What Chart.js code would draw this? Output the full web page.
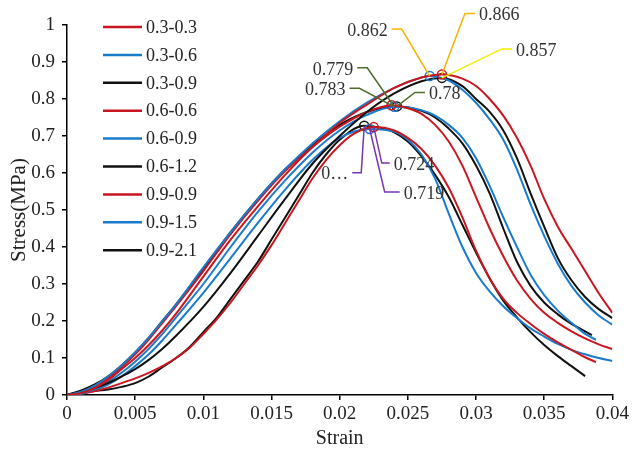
<!DOCTYPE html>
<html>
<head>
<meta charset="utf-8">
<script src="https://cdn.jsdelivr.net/npm/chart.js@4.4.0/dist/chart.umd.min.js"></script>
<style>
  html, body { margin: 0; padding: 0; background: #fff; }
  #wrap { width: 632px; height: 451px; }
</style>
</head>
<body>
<div id="wrap"><canvas id="chart" width="632" height="451"></canvas></div>
<script>
/* Stress-strain curves, 9 specimens */

const RED = '#C9171F', BLUE = '#1A7BCB', BLACK = '#111111';

const SERIES_LABELS = ['0.3-0.3', '0.3-0.6', '0.3-0.9', '0.6-0.6', '0.6-0.9', '0.6-1.2', '0.9-0.9', '0.9-1.5', '0.9-2.1'];
const SERIES_COLORS = [RED, BLUE, BLACK, RED, BLUE, BLACK, RED, BLUE, BLACK];

// strain / stress (MPa)
const strain_03_03 = [0,0.001,0.002,0.003,0.004,0.005,0.006,0.007,0.008,0.010,0.012,0.014,0.016,0.018,0.020,0.022,0.024,0.026,0.0275,0.029,0.030,0.031,0.032,0.033,0.034,0.035,0.036,0.037,0.038,0.039,0.040];
const stress_03_03 = [0,0.005,0.018,0.04,0.07,0.1,0.135,0.175,0.22,0.32,0.42,0.51,0.595,0.67,0.735,0.785,0.83,0.858,0.866,0.855,0.835,0.80,0.755,0.695,0.62,0.53,0.455,0.395,0.335,0.275,0.222];

const strain_03_06 = [0,0.001,0.002,0.003,0.004,0.005,0.006,0.007,0.008,0.010,0.012,0.014,0.016,0.018,0.020,0.022,0.024,0.0255,0.0266,0.028,0.029,0.030,0.031,0.032,0.033,0.034,0.035,0.036,0.037,0.038,0.039,0.040];
const stress_03_06 = [0,0.008,0.025,0.05,0.08,0.115,0.155,0.2,0.245,0.345,0.44,0.53,0.61,0.68,0.74,0.79,0.83,0.852,0.862,0.85,0.825,0.79,0.745,0.69,0.61,0.515,0.43,0.355,0.295,0.25,0.215,0.19];

const strain_03_09 = [0,0.001,0.002,0.003,0.004,0.005,0.006,0.007,0.008,0.010,0.012,0.014,0.016,0.018,0.020,0.022,0.024,0.026,0.0275,0.029,0.030,0.031,0.032,0.033,0.034,0.035,0.036,0.037,0.038,0.039,0.040];
const stress_03_09 = [0,0.008,0.018,0.032,0.05,0.07,0.095,0.125,0.16,0.238,0.33,0.43,0.53,0.625,0.70,0.765,0.815,0.848,0.857,0.835,0.80,0.765,0.715,0.64,0.545,0.455,0.37,0.31,0.265,0.232,0.208];

const strain_06_06 = [0,0.001,0.002,0.003,0.004,0.005,0.006,0.007,0.008,0.010,0.012,0.014,0.016,0.018,0.020,0.022,0.0238,0.025,0.026,0.027,0.028,0.029,0.030,0.031,0.032,0.033,0.034,0.035,0.036,0.037,0.038,0.039,0.040];
const stress_06_06 = [0,0.006,0.02,0.045,0.075,0.11,0.15,0.195,0.24,0.335,0.435,0.525,0.605,0.67,0.725,0.765,0.783,0.775,0.76,0.73,0.685,0.62,0.535,0.45,0.375,0.31,0.26,0.222,0.195,0.172,0.153,0.137,0.124];

const strain_06_09 = [0,0.001,0.002,0.003,0.004,0.005,0.006,0.007,0.008,0.010,0.012,0.014,0.016,0.018,0.020,0.022,0.024,0.026,0.027,0.028,0.029,0.030,0.031,0.032,0.033,0.034,0.035,0.036,0.037,0.038,0.0388];
const stress_06_09 = [0,0.004,0.015,0.035,0.06,0.09,0.125,0.165,0.21,0.3,0.4,0.495,0.58,0.655,0.715,0.757,0.779,0.77,0.755,0.73,0.695,0.64,0.565,0.48,0.40,0.325,0.27,0.228,0.195,0.165,0.149];

const strain_06_12 = [0,0.001,0.002,0.003,0.004,0.005,0.006,0.007,0.008,0.010,0.012,0.014,0.016,0.018,0.020,0.022,0.0242,0.026,0.027,0.028,0.029,0.030,0.031,0.032,0.033,0.034,0.035,0.036,0.037,0.038,0.0385];
const stress_06_12 = [0,0.012,0.028,0.05,0.08,0.115,0.155,0.2,0.245,0.34,0.44,0.53,0.61,0.675,0.73,0.765,0.78,0.768,0.75,0.72,0.68,0.62,0.545,0.45,0.36,0.295,0.25,0.218,0.192,0.172,0.162];

const strain_09_09 = [0,0.001,0.002,0.003,0.004,0.005,0.006,0.007,0.008,0.009,0.010,0.011,0.012,0.013,0.014,0.015,0.016,0.017,0.018,0.019,0.020,0.021,0.0225,0.024,0.025,0.026,0.027,0.028,0.029,0.030,0.031,0.032,0.033,0.034,0.035,0.036,0.037,0.038,0.0388];
const stress_09_09 = [0,0.004,0.01,0.02,0.032,0.045,0.06,0.078,0.1,0.128,0.165,0.205,0.25,0.3,0.35,0.405,0.465,0.525,0.585,0.635,0.675,0.705,0.724,0.715,0.695,0.665,0.62,0.56,0.48,0.39,0.315,0.26,0.222,0.192,0.165,0.142,0.122,0.102,0.089];

const strain_09_15 = [0,0.001,0.002,0.003,0.004,0.005,0.006,0.007,0.008,0.010,0.012,0.014,0.016,0.018,0.020,0.0222,0.024,0.025,0.026,0.027,0.028,0.029,0.030,0.031,0.032,0.033,0.034,0.035,0.036,0.037,0.038,0.039,0.040];
const stress_09_15 = [0,0.003,0.012,0.028,0.05,0.078,0.11,0.148,0.19,0.276,0.37,0.465,0.555,0.635,0.695,0.719,0.712,0.69,0.65,0.585,0.49,0.40,0.33,0.28,0.24,0.208,0.18,0.158,0.138,0.122,0.11,0.1,0.092];

const strain_09_21 = [0,0.001,0.002,0.003,0.004,0.005,0.006,0.007,0.008,0.009,0.010,0.011,0.012,0.013,0.014,0.015,0.016,0.017,0.018,0.019,0.020,0.0218,0.023,0.024,0.025,0.026,0.027,0.028,0.029,0.030,0.031,0.032,0.033,0.034,0.035,0.036,0.037,0.038];
const stress_09_21 = [0,0.007,0.011,0.015,0.022,0.032,0.05,0.075,0.1,0.13,0.17,0.21,0.26,0.31,0.36,0.42,0.48,0.54,0.6,0.65,0.69,0.728,0.722,0.71,0.685,0.645,0.595,0.535,0.46,0.385,0.315,0.255,0.21,0.17,0.135,0.105,0.078,0.051];

const STRAINS = [strain_03_03, strain_03_06, strain_03_09, strain_06_06, strain_06_09, strain_06_12, strain_09_09, strain_09_15, strain_09_21];
const STRESSES = [stress_03_03, stress_03_06, stress_03_09, stress_06_06, stress_06_09, stress_06_12, stress_09_09, stress_09_15, stress_09_21];

// peak value callouts
const ANNOT_TEXT   = ['0.866', '0.862', '0.857', '0.783', '0.779', '0.78', '0.724', '0.719', '0\u2026'];
const ANNOT_SERIES = [0, 1, 2, 3, 4, 5, 6, 7, 8];
const ANNOT_COLOR  = ['#F5B301', '#F5B301', '#F2EE00', '#4F6B2A', '#4F6B2A', '#4F6B2A', '#7A35B0', '#7A35B0', '#7A35B0'];
// leader layout, px offsets from the peak point: text end (dx, dy), elbow x
const CALLOUT_DX = [33, -38, 70, -42, -37, 28, 16, 30, -12];
const CALLOUT_DY = [-61, -47, -29, -17, -39, -14, 36, 63, 47];
const CALLOUT_EX = [23, -28, 60, -32, -27, 18, 8, 15, -3];

const FONT = '"Liberation Serif", "Times New Roman", serif';

const PEAK_INDEX = STRESSES.map(arr => arr.indexOf(Math.max(...arr)));

const datasets = SERIES_LABELS.map((label, i) => ({
  label,
  data: STRAINS[i].map((x, j) => ({ x, y: STRESSES[i][j] })),
  borderColor: SERIES_COLORS[i],
  backgroundColor: SERIES_COLORS[i],
  borderWidth: 2,
  fill: false,
  cubicInterpolationMode: 'monotone',
  pointRadius: ctx => ctx.dataIndex === PEAK_INDEX[ctx.datasetIndex] ? 4.5 : 0,
  pointHoverRadius: 0,
  pointBackgroundColor: 'rgba(0,0,0,0)',
  pointBorderColor: SERIES_COLORS[i],
  pointBorderWidth: 1.5,
}));

const insideLegend = {
  id: 'insideLegend',
  afterDatasetsDraw(chart) {
    const { ctx, chartArea: ca } = chart;
    ctx.save();
    ctx.font = '18px ' + FONT;
    ctx.textBaseline = 'middle';
    ctx.textAlign = 'left';
    chart.data.datasets.forEach((ds, i) => {
      const y = ca.top + 2 + i * 27.9;
      ctx.strokeStyle = ds.borderColor;
      ctx.lineWidth = 2.5;
      ctx.beginPath();
      ctx.moveTo(ca.left + 36, y);
      ctx.lineTo(ca.left + 75, y);
      ctx.stroke();
      ctx.fillStyle = '#222';
      ctx.fillText(ds.label, ca.left + 79, y + 1);
    });
    ctx.restore();
  }
};

const callouts = {
  id: 'callouts',
  afterDatasetsDraw(chart) {
    const ctx = chart.ctx;
    ctx.save();
    ctx.font = '18px ' + FONT;
    ctx.textBaseline = 'middle';
    ANNOT_SERIES.forEach((si, k) => {
      const pt = chart.getDatasetMeta(si).data[PEAK_INDEX[si]];
      const x0 = pt.x, y0 = pt.y;
      const sx = x0 + CALLOUT_DX[k], sy = y0 + CALLOUT_DY[k], ex = x0 + CALLOUT_EX[k];
      ctx.strokeStyle = ANNOT_COLOR[k];
      ctx.lineWidth = 1.5;
      ctx.beginPath();
      ctx.moveTo(sx, sy);
      ctx.lineTo(ex, sy);
      ctx.lineTo(x0, y0);
      ctx.stroke();
      ctx.fillStyle = '#333';
      if (CALLOUT_DX[k] > CALLOUT_EX[k]) {
        ctx.textAlign = 'left';
        ctx.fillText(ANNOT_TEXT[k], sx + 4, sy + 2);
      } else {
        ctx.textAlign = 'right';
        ctx.fillText(ANNOT_TEXT[k], sx - 4, sy + 2);
      }
    });
    ctx.restore();
  }
};

new Chart(document.getElementById('chart'), {
  type: 'line',
  data: { datasets },
  options: {
    responsive: false,
    animation: false,
    layout: { padding: { top: 25, right: 19, left: 0, bottom: 0 } },
    plugins: { legend: { display: false }, tooltip: { enabled: false } },
    scales: {
      x: {
        type: 'linear', min: 0, max: 0.04,
        afterFit: s => { s.height = 56; },
        ticks: { stepSize: 0.005, color: '#222', padding: 3, maxRotation: 0,
                 font: { family: FONT, size: 19 },
                 callback: v => String(+v.toFixed(4)) },
        grid: { drawOnChartArea: false, tickLength: 5, color: '#000', lineWidth: 1.5 },
        border: { color: '#000', width: 1.5 },
        title: { display: true, text: 'Strain', color: '#222',
                 font: { family: FONT, size: 20 }, padding: { top: 0, bottom: 0 } }
      },
      y: {
        min: 0, max: 1,
        afterFit: s => { s.width = 67; },
        ticks: { stepSize: 0.1, color: '#222', padding: 7,
                 font: { family: FONT, size: 19 },
                 callback: v => String(+v.toFixed(2)) },
        grid: { drawOnChartArea: false, tickLength: 5, color: '#000', lineWidth: 1.5 },
        border: { color: '#000', width: 1.5 },
        title: { display: true, text: 'Stress(MPa)', color: '#222',
                 font: { family: FONT, size: 21 }, padding: { top: 7, bottom: 0 } }
      }
    }
  },
  plugins: [insideLegend, callouts]
});
</script>
</body>
</html>
